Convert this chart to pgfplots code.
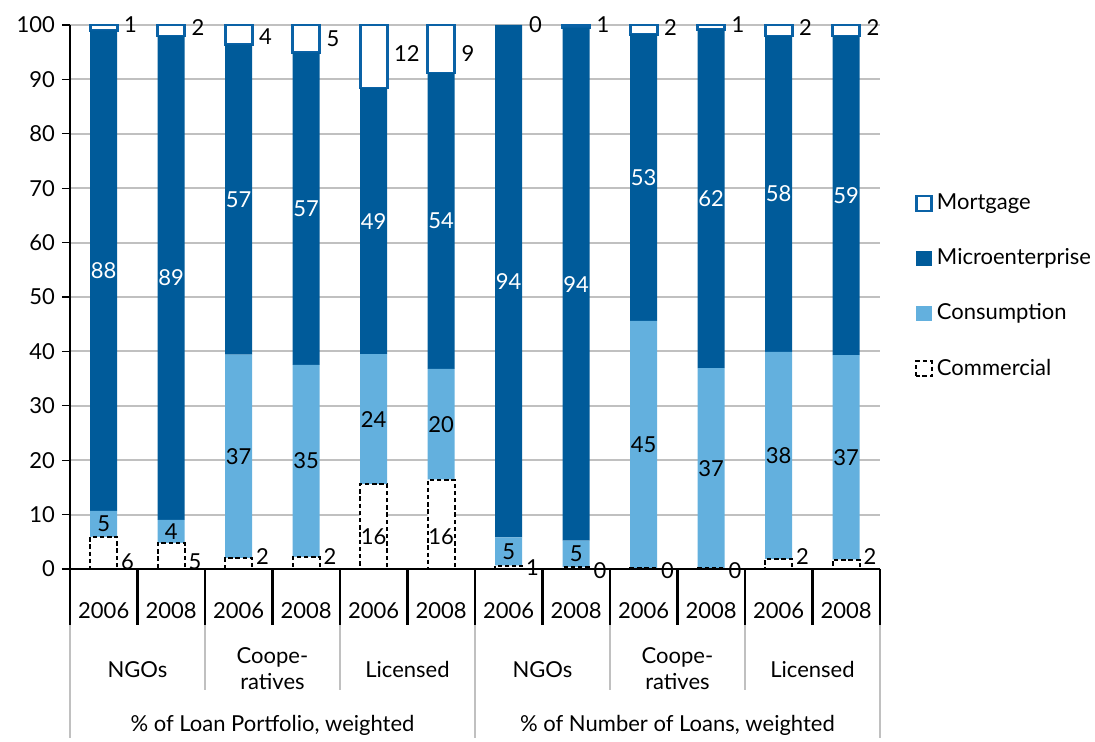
\documentclass[border=0pt]{standalone}
\usepackage{fontspec}
\setmainfont{Lato}
\usepackage{pgfplots}
\usepackage{pgfplotstable}
\pgfplotsset{compat=1.18}
\definecolor{micro}{HTML}{005B9A}
\definecolor{cons}{HTML}{63B0DE}
\definecolor{mort}{HTML}{0A62A6}
\definecolor{gridc}{HTML}{C0C0C0}
\newcommand{\lf}{\fontsize{11}{13}\selectfont}

\pgfplotstableread{
x com con mic mor
0 5.9 4.8 88.3 1.0
1 4.8 4.2 89.0 2.0
2 2.0 37.4 57.0 3.6
3 2.2 35.3 57.4 5.1
4 15.6 23.9 48.9 11.6
5 16.4 20.4 54.4 8.8
6 0.6 5.2 94.2 0.0
7 0.3 4.9 94.3 0.5
8 0.1 45.5 52.7 1.7
9 0.1 36.8 62.3 0.8
10 1.8 38.1 58.1 2.0
11 1.7 37.6 58.7 2.0
}\data

\pgfplotstableread{
x y l
0 54.85 88
1 53.5 89
2 67.9 57
3 66.2 57
4 63.95 49
5 64.0 54
6 52.9 94
7 52.35 94
8 71.95 53
9 68.05 62
10 68.95 58
11 68.65 59
}\microlab

\pgfplotstableread{
x y l
0 8.3 5
1 6.9 4
2 20.7 37
3 19.85 35
4 27.55 24
5 26.6 20
6 3.2 5
7 2.75 5
8 22.85 45
9 18.5 37
10 20.85 38
11 20.5 37
4 6.0 16
5 6.0 16
}\conlab

\pgfplotstableread{
x y l
0 1.3 6
1 1.3 5
2 2.2 2
3 2.2 2
6 0.3 1
7 -0.3 0
8 -0.3 0
9 -0.3 0
10 2.2 2
11 2.2 2
}\comlab

\pgfplotstableread{
x y l
0 100 1
1 99.6 2
2 97.8 4
3 97.4 5
4 94.7 12
5 94.7 9
6 100 0
7 100 1
8 99.6 2
9 100 1
10 99.6 2
11 99.6 2
}\morlab

\begin{document}
\begin{tikzpicture}
\path (0pt,0pt) rectangle (547.5pt,369pt);
\begin{axis}[
  at={(35pt,84.5pt)}, anchor=south west,
  width=405pt, height=272pt, scale only axis,
  xmin=-0.5, xmax=11.5, ymin=0, ymax=100,
  ybar stacked, bar width=13.5pt,
  clip=false,
  axis lines*=left,
  x axis line style={black, line width=1.2pt},
  y axis line style={black, line width=0.6pt},
  xtick={0,...,11},
  xticklabels={2006,2008,2006,2008,2006,2008,2006,2008,2006,2008,2006,2008},
  x tick style={draw=none},
  xticklabel style={anchor=center, yshift=-17pt},
  ytick={0,10,...,100},
  y tick style={black, line width=0.6pt},
  major tick length=4pt, tick align=outside,
  ymajorgrids, grid style={gridc, line width=1pt},
  tick label style={font=\lf},
  /pgf/number format/assume math mode=true,
  legend style={at={(1.043,0.52)}, anchor=west, draw=none, fill=none,
    row sep=14pt, font=\lf, inner sep=0pt},
  legend cell align=left,
  reverse legend,
]
\addplot[fill=white, draw=black, line width=1pt, dash pattern=on 2.2pt off 1.4pt,
  legend image code/.code={\draw[fill=white, draw=black, line width=1pt, dash pattern=on 2.2pt off 1.4pt] (0pt,-3.8pt) rectangle (7.6pt,3.8pt);}]
  table[x=x,y=com] {\data};
\addlegendentry{Commercial}
\addplot[fill=cons, draw=none,
  legend image code/.code={\fill[cons] (0pt,-3.8pt) rectangle (7.6pt,3.8pt);}]
  table[x=x,y=con] {\data};
\addlegendentry{Consumption}
\addplot[fill=micro, draw=none,
  legend image code/.code={\fill[micro] (0pt,-3.8pt) rectangle (7.6pt,3.8pt);}]
  table[x=x,y=mic] {\data};
\addlegendentry{Microenterprise}
\addplot[fill=white, draw=mort, line width=1.3pt,
  legend image code/.code={\draw[fill=white, draw=mort, line width=1.3pt] (0pt,-3.8pt) rectangle (7.6pt,3.8pt);}]
  table[x=x,y=mor] {\data};
\addlegendentry{Mortgage}
\end{axis}

\begin{axis}[
  at={(35pt,84.5pt)}, anchor=south west,
  width=405pt, height=272pt, scale only axis,
  xmin=-0.5, xmax=11.5, ymin=0, ymax=100,
  hide axis, clip=false,
  nodes near coords={\pgfplotspointmeta},
  point meta=explicit symbolic,
]
\addplot[draw=none, mark=none, nodes near coords align={center},
  every node near coord/.append style={anchor=center, font=\lf, white, inner sep=1pt}]
  table[x=x,y=y,meta=l] {\microlab};
\addplot[draw=none, mark=none, nodes near coords align={center},
  every node near coord/.append style={anchor=center, font=\lf, black, inner sep=1pt}]
  table[x=x,y=y,meta=l] {\conlab};
\addplot[draw=none, mark=none, nodes near coords align={center},
  every node near coord/.append style={anchor=west, xshift=7.5pt, font=\lf, black, inner sep=1pt}]
  table[x=x,y=y,meta=l] {\comlab};
\addplot[draw=none, mark=none, nodes near coords align={center},
  every node near coord/.append style={anchor=west, xshift=9pt, font=\lf, black, inner sep=1pt}]
  table[x=x,y=y,meta=l] {\morlab};
\end{axis}

% x axis line redraw and category separators
\draw[black, line width=1.2pt] (31pt,84.5pt) -- (440pt,84.5pt);
\foreach \k in {0,...,12} \draw[black, line width=1.2pt] ({35pt+33.75pt*\k},84.5pt) -- ({35pt+33.75pt*\k},56.5pt);
\foreach \k in {2,4,8,10} \draw[gridc, line width=1pt] ({35pt+33.75pt*\k},56.5pt) -- ({35pt+33.75pt*\k},24pt);
\foreach \k in {0,6,12} \draw[gridc, line width=1pt] ({35pt+33.75pt*\k},56.5pt) -- ({35pt+33.75pt*\k},0pt);
\foreach \k/\t in {1/NGOs,5/Licensed,7/NGOs,11/Licensed}
  \node[font=\lf] at ({35pt+33.75pt*\k},34pt) {\t};
\foreach \k in {3,9}
  \node[font=\lf, align=center, inner sep=0pt] at ({35pt+33.75pt*\k},34.75pt) {\fontsize{11}{13.5}\selectfont Coope-\\ratives};
\node[font=\lf] at ({35pt+33.75pt*3},6.5pt) {\% of Loan Portfolio, weighted};
\node[font=\lf] at ({35pt+33.75pt*9},6.5pt) {\% of Number of Loans, weighted};
\end{tikzpicture}
\end{document}
